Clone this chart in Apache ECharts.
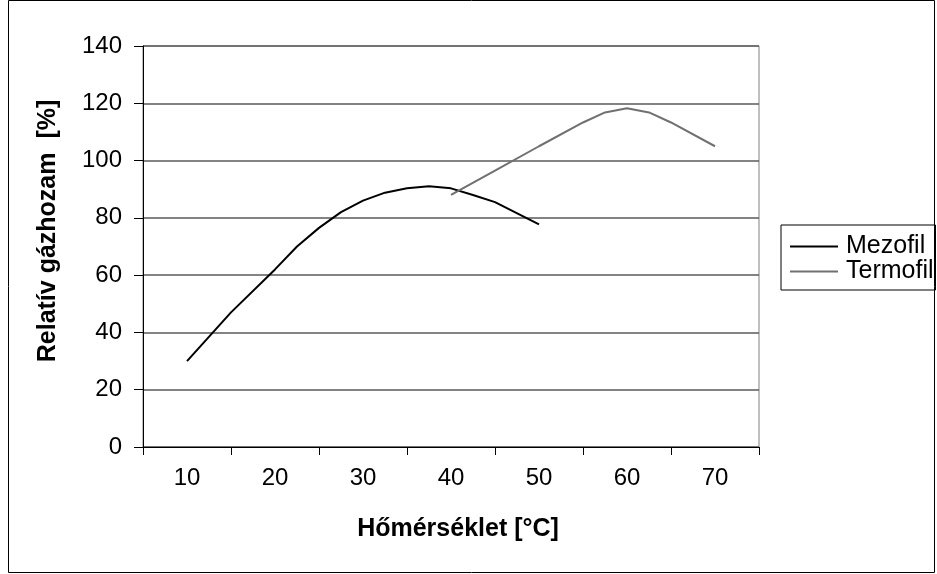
<!DOCTYPE html>
<html>
<head>
<meta charset="utf-8">
<script src="https://cdn.jsdelivr.net/npm/echarts@6/dist/echarts.min.js"></script>
<style>
html,body{margin:0;padding:0;background:#fff;}
#chart{width:937px;height:574px;}
</style>
</head>
<body>
<div id="chart"></div>
<script>
const categories = ['10','20','30','40','50','60','70'];
const mezofilTemp = [10, 15, 20, 22.5, 25, 27.5, 30, 32.5, 35, 37.5, 40, 42.5, 45, 50];
const mezofilVal  = [30, 47, 62, 70, 76.5, 82, 86, 88.8, 90.3, 91, 90.3, 88, 85.5, 77.7];
const termofilTemp = [40, 45, 50, 55, 57.5, 60, 62.5, 65, 70];
const termofilVal  = [88, 96.5, 105, 113.3, 116.8, 118.3, 116.8, 113.3, 105];
const yTitle = 'Relatív gázhozam  [%]';
const xTitle = 'Hőmérséklet [°C]';

const FONT = 'Liberation Sans, Arial, sans-serif';
const chart = echarts.init(document.getElementById('chart'));
chart.setOption({
  animation: false,
  backgroundColor: '#fff',
  textStyle: {fontFamily: FONT},
  grid: {left: 143, right: 178, top: 46, bottom: 127, show: true, borderColor: '#808080', borderWidth: 1},
  xAxis: [{
    type: 'category', data: categories, boundaryGap: true,
    axisLine: {lineStyle: {color: '#000', width: 1}},
    axisTick: {show: true, length: 8, alignWithLabel: false, lineStyle: {color: '#000'}},
    axisLabel: {fontSize: 24, color: '#000', margin: 19, fontFamily: FONT},
    splitLine: {show: false}
  }, {
    type: 'value', min: 5, max: 75, show: false
  }],
  yAxis: {
    type: 'value', min: 0, max: 140, interval: 20,
    axisLine: {show: true, lineStyle: {color: '#000', width: 1}},
    axisTick: {show: true, length: 9, lineStyle: {color: '#000'}},
    axisLabel: {fontSize: 24, color: '#000', margin: 21, fontFamily: FONT},
    splitLine: {show: true, lineStyle: {color: '#5a5a5a', width: 1.5}}
  },
  legend: {
    orient: 'vertical', left: 781, top: 225,
    padding: [9, 2, 6, 9], itemGap: 0, itemWidth: 48, itemHeight: 2,
    icon: 'rect',
    borderColor: '#000', borderWidth: 1,
    textStyle: {fontSize: 25, lineHeight: 24, color: '#000', fontFamily: FONT, padding: [0, 0, 0, 3]},
    data: ['Mezofil', 'Termofil']
  },
  series: [{
    name: 'Mezofil', type: 'line', xAxisIndex: 1, symbol: 'none',
    lineStyle: {color: '#000', width: 2}, itemStyle: {color: '#000'},
    data: mezofilTemp.map((t, i) => [t, mezofilVal[i]])
  }, {
    name: 'Termofil', type: 'line', xAxisIndex: 1, symbol: 'none',
    lineStyle: {color: '#707070', width: 2}, itemStyle: {color: '#707070'},
    data: termofilTemp.map((t, i) => [t, termofilVal[i]])
  }],
  graphic: [{
    type: 'rect', shape: {x: 8.5, y: 0.5, width: 926, height: 572},
    style: {fill: 'none', stroke: '#000', lineWidth: 1}, silent: true
  }, {
    type: 'text', x: 458, y: 529,
    style: {text: xTitle, fill: '#000', font: 'bold 25px ' + FONT, textAlign: 'center', textVerticalAlign: 'middle'}
  }, {
    type: 'text', x: 48, y: 231, rotation: Math.PI / 2,
    style: {text: yTitle, fill: '#000', font: 'bold 25px ' + FONT, textAlign: 'center', textVerticalAlign: 'middle'}
  }]
});
</script>
</body>
</html>
